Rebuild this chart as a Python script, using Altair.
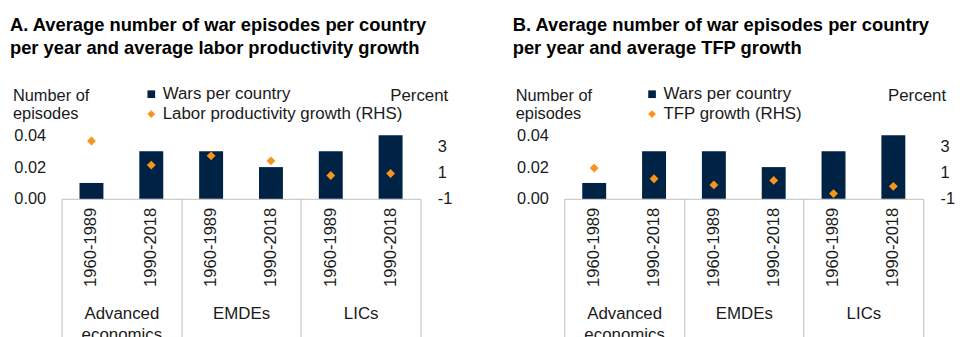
import altair as alt
import pandas as pd

# ---- data ----
groups = ["Advanced economics", "EMDEs", "LICs"]
periods = ["1960-1989", "1990-2018"]
wars_a = [0.01, 0.03, 0.03, 0.02, 0.03, 0.04]
labor_growth = [3.4, 1.57, 2.27, 1.89, 0.78, 0.93]
wars_b = [0.01, 0.03, 0.03, 0.02, 0.03, 0.04]
tfp_growth = [1.34, 0.53, 0.06, 0.4, -0.6, -0.05]

title_a = ["A. Average number of war episodes per country",
           "per year and average labor productivity growth"]
title_b = ["B. Average number of war episodes per country",
           "per year and average TFP growth"]
bar_label = "Wars per country"
labor_label = "Labor productivity growth (RHS)"
tfp_label = "TFP growth (RHS)"
left_ticks = [0, 0.02, 0.04]
right_ticks = [-1, 1, 3]

NAVY = "#002345"
ORANGE = "#F7941E"
FONT = "Liberation Sans"
TXT = "#1a1a1a"
W, H = 362, 64
FS = 16.5


def panel(title, wars, growth, growth_label, legend_x, percent_dx):
    rows = []
    i = 0
    for g in groups:
        for p in periods:
            rows.append({"group": g, "period": p, "wars": wars[i], "growth": growth[i]})
            i += 1
    df = pd.DataFrame(rows)
    base = alt.Chart(df)

    xaxis = alt.Axis(title=None, domainColor="#bfbfbf", tickColor="#bfbfbf",
                     tickSize=150, tickBand="extent", labelPadding=-42,
                     labelFontSize=17, labelColor=TXT, labelFont=FONT,
                     labelLineHeight=21, labelAngle=0, labelBaseline="top",
                     labelExpr="datum.value == 'Advanced economics' ? ['Advanced','economics'] : datum.label")
    x = alt.X("group:N", scale=alt.Scale(domain=groups, paddingInner=0, paddingOuter=0), axis=xaxis)
    xo = alt.XOffset("period:N", scale=alt.Scale(domain=periods, paddingInner=0.6, paddingOuter=0.3))

    sdom = [bar_label, growth_label]
    leg = alt.Legend(orient="none", legendX=legend_x, legendY=-50, direction="vertical",
                     title=None, labelFontSize=17, labelFont=FONT, labelColor=TXT,
                     labelLimit=400, symbolSize=60, labelOffset=3, rowPadding=2,
                     padding=0, symbolStrokeWidth=0)
    color = alt.Color("series:N", scale=alt.Scale(domain=sdom, range=[NAVY, ORANGE]), legend=leg)

    bars = base.transform_calculate(series=f"'{bar_label}'").mark_bar(color=NAVY).encode(
        x=x, xOffset=xo,
        y=alt.Y("wars:Q", scale=alt.Scale(domain=[0, 0.04], nice=False, zero=True),
                axis=alt.Axis(values=left_ticks, format=".2f", title=None, domain=False,
                              ticks=False, grid=False, labelFontSize=FS, labelPadding=16,
                              labelColor=TXT, labelFont=FONT)),
        color=color,
    )
    pts = base.transform_calculate(series=f"'{growth_label}'").mark_point(
        filled=True, size=80, opacity=1).encode(
        x=x, xOffset=xo,
        y=alt.Y("growth:Q", scale=alt.Scale(domain=[-1, 3.83], nice=False, zero=False),
                axis=alt.Axis(orient="right", values=right_ticks, title=None, domain=False,
                              ticks=False, grid=False, labelFontSize=FS, labelPadding=17,
                              labelColor=TXT, labelFont=FONT,
                              labelExpr="toString(datum.value)")),
        color=color,
        shape=alt.Shape("series:N", scale=alt.Scale(domain=sdom, range=["square", "diamond"]), legend=leg),
    )
    plab = base.mark_text(angle=270, align="right", baseline="middle", fontSize=16.7,
                          font=FONT, color=TXT).encode(
        x=x, xOffset=xo, y=alt.value(73), text="period:N")

    one = alt.Data(values=[{}])
    ttl = alt.Chart(one).mark_text(text=title, align="left", baseline="alphabetic",
                                   fontSize=18.5, fontWeight="bold", font=FONT, color="#000",
                                   lineHeight=23).encode(x=alt.value(-52), y=alt.value(-105))
    ylab = alt.Chart(one).mark_text(text=["Number of", "episodes"], align="left",
                                    baseline="alphabetic", fontSize=FS, font=FONT, color=TXT,
                                    lineHeight=18.5).encode(x=alt.value(-49), y=alt.value(-35))
    pct = alt.Chart(one).mark_text(text="Percent", align="right", baseline="alphabetic",
                                   fontSize=17, font=FONT, color=TXT).encode(
        x=alt.value(W + percent_dx), y=alt.value(-35))

    return alt.layer(bars, pts, plab, ttl, ylab, pct).resolve_scale(y="independent").properties(
        width=W, height=H)


pa = panel(title_a, wars_a, labor_growth, labor_label, 82, 28)
pb = panel(title_b, wars_b, tfp_growth, tfp_label, 80, 23)

chart = alt.hconcat(pa, pb, spacing=145, bounds="flush").resolve_scale(
    color="independent", shape="independent").resolve_legend(
    color="independent", shape="independent").properties(
    padding={"left": 2, "top": 7, "right": 0, "bottom": 0}
).configure_view(stroke=None).configure_legend(labelFontSize=17, labelFont=FONT)

chart.save("out.html", embed_options={"renderer": "svg", "actions": False})
